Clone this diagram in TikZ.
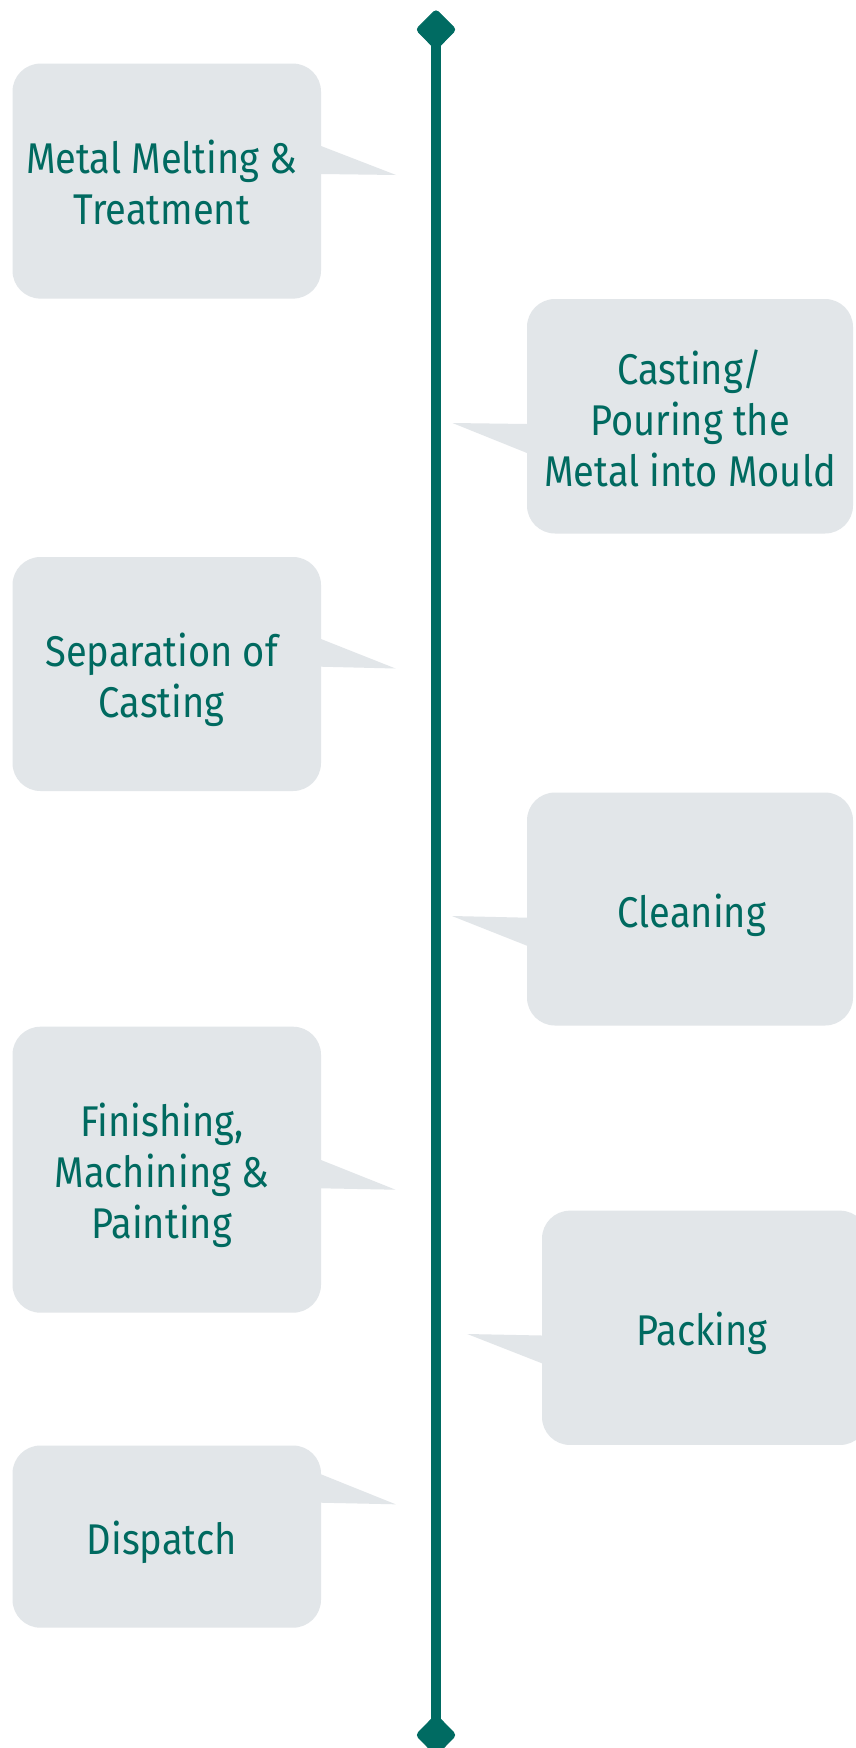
\documentclass[tikz,border=0pt]{standalone}
\usepackage{fontspec}
\setmainfont{Fira Sans}[FakeStretch=0.885]
\definecolor{teal}{HTML}{006B62}
\definecolor{tealtext}{HTML}{006A60}
\definecolor{boxgray}{HTML}{E2E6E9}
\begin{document}
\begin{tikzpicture}[x=1pt,y=-1pt,
  callout/.style={fill=boxgray, draw=none, rounded corners=28pt, inner sep=0pt},
  label/.style={text=tealtext, align=center, inner sep=0pt, font=\fontsize{43}{51}\selectfont},
  ptr/.style={fill=boxgray, draw=none},
  endmark/.style={fill=teal, draw=teal, line width=1pt, rounded corners=3.5pt}]
\clip (0,0) rectangle (856,1748);
\fill[white] (0,0) rectangle (856,1748);

% timeline
\coordinate (top) at (436,29.5);
\coordinate (bot) at (436,1735);
\draw[teal, line width=10.3pt] (top) -- (bot);
\filldraw[endmark] (436,9.5) -- (456,29.5) -- (436,50) -- (416,29.5) -- cycle;
\filldraw[endmark] (436,1714.5) -- (456,1735) -- (436,1755.5) -- (416,1735) -- cycle;

% boxes
\node[callout, minimum width=308.5pt, minimum height=235pt] (b1) at (166.75,181.1) {};
\node[callout, minimum width=326pt, minimum height=234.5pt] (b2) at (690,416.25) {};
\node[callout, minimum width=308.5pt, minimum height=234pt] (b3) at (166.75,674) {};
\node[callout, minimum width=326pt, minimum height=233pt] (b4) at (690,909) {};
\node[callout, minimum width=308.5pt, minimum height=286pt] (b5) at (166.75,1169.7) {};
\node[callout, minimum width=326pt, minimum height=234.3pt] (b6) at (705,1327.8) {};
\node[callout, minimum width=308.5pt, minimum height=182.2pt] (b7) at (166.75,1536.6) {};

% pointers
\coordinate (p1) at (396,175);
\coordinate (p2) at (452.5,423);
\coordinate (p3) at (395.5,668.5);
\coordinate (p4) at (452,916);
\coordinate (p5) at (395.5,1189.7);
\coordinate (p6) at (467.3,1334);
\coordinate (p7) at (395.7,1504.3);
\fill[ptr] (318,146) -- (321,146) -- (p1) -- (321,174) -- (318,174) -- cycle;
\fill[ptr] (530,424) -- (527,424) -- (p2) -- (527,453) -- (530,453) -- cycle;
\fill[ptr] (318,639) -- (321,639) -- (p3) -- (321,666.7) -- (318,666.7) -- cycle;
\fill[ptr] (530,917.7) -- (527,917.7) -- (p4) -- (527,945.7) -- (530,945.7) -- cycle;
\fill[ptr] (318,1160) -- (321,1160) -- (p5) -- (321,1188.3) -- (318,1188.3) -- cycle;
\fill[ptr] (545,1335.5) -- (542,1335.5) -- (p6) -- (542,1363.3) -- (545,1363.3) -- cycle;
\fill[ptr] (318,1474.3) -- (321,1474.3) -- (p7) -- (321,1502.7) -- (318,1502.7) -- cycle;

% labels
\node[label] (t1) at (161.7,182) {Metal Melting \&\\Treatment};
\node[label] (t2) at (690,418) {Casting/\\Pouring the\\Metal into Mould};
\node[label] (t3) at (161.7,679.5) {Separation of\\Casting};
\node[label] (t4) at (692,915.5) {Cleaning};
\node[label] (t5) at (161.7,1175) {Finishing,\\Machining \&\\Painting};
\node[label] (t6) at (702,1333) {Packing};
\node[label] (t7) at (161.7,1542) {Dispatch};
\end{tikzpicture}
\end{document}
